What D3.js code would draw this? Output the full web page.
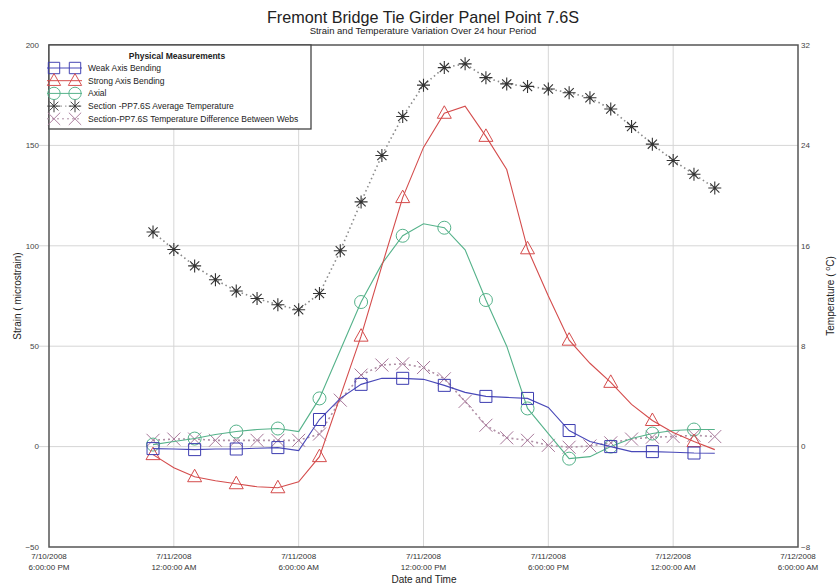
<!DOCTYPE html>
<html>
<head>
<meta charset="utf-8">
<script src="https://cdn.jsdelivr.net/npm/d3@7/dist/d3.min.js"></script>
<style>
  body { margin: 0; background: #fff; }
  text { font-family: "Liberation Sans", Arial, sans-serif; }
</style>
</head>
<body>
<div id="container"></div>
<script>
const w = 837;
const h = 587;

// hourly readings, 7/10/2008 11 PM .. 7/12/2008 2 AM
const times = [
  "2008-07-10 23:00", "2008-07-11 00:00", "2008-07-11 01:00", "2008-07-11 02:00",
  "2008-07-11 03:00", "2008-07-11 04:00", "2008-07-11 05:00", "2008-07-11 06:00",
  "2008-07-11 07:00", "2008-07-11 08:00", "2008-07-11 09:00", "2008-07-11 10:00",
  "2008-07-11 11:00", "2008-07-11 12:00", "2008-07-11 13:00", "2008-07-11 14:00",
  "2008-07-11 15:00", "2008-07-11 16:00", "2008-07-11 17:00", "2008-07-11 18:00",
  "2008-07-11 19:00", "2008-07-11 20:00", "2008-07-11 21:00", "2008-07-11 22:00",
  "2008-07-11 23:00", "2008-07-12 00:00", "2008-07-12 01:00", "2008-07-12 02:00"
];
const weakAxis = [-1, -1.2, -1.5, -1.2, -1.2, -0.8, -0.5, -2, 13.5, 24, 31, 34, 34, 33.5,
  30.5, 27, 25, 24.5, 24, 19.5, 8, 2.5, 0, -2.5, -2.5, -2.8, -3.2, -3.3];
const strongAxis = [-4, -10.5, -15, -17, -18.5, -20, -20.5, -17.5, -5, 25, 55, 90, 124, 149,
  166, 169.5, 154.5, 138, 98.5, 75, 53, 41.5, 32, 21, 13, 7, 2.5, -1.5];
const axial = [1, 2.5, 4, 6, 7.5, 8.5, 9, 7.5, 24, 48, 72, 91, 105, 111,
  109, 98, 73, 50, 19, 6.5, -6, -5, 0, 4, 6.5, 8, 8.5, 8.5];
const avgTemp = [17.1, 15.7, 14.4, 13.3, 12.4, 11.8, 11.3, 10.9, 12.2, 15.6, 19.5, 23.2, 26.3, 28.8,
  30.2, 30.5, 29.4, 28.9, 28.7, 28.5, 28.2, 27.8, 26.9, 25.5, 24.1, 22.8, 21.7, 20.6];
const tempDiff = [0.5, 0.6, 0.6, 0.5, 0.5, 0.5, 0.5, 0.5, 1.0, 3.7, 5.7, 6.5, 6.6, 6.3,
  5.4, 3.6, 1.7, 0.7, 0.5, 0.1, -0.05, 0.05, 0.3, 0.6, 0.75, 0.8, 0.9, 0.8];

const xTicks = ["2008-07-10 18:00", "2008-07-11 00:00", "2008-07-11 06:00", "2008-07-11 12:00",
  "2008-07-11 18:00", "2008-07-12 00:00", "2008-07-12 06:00"];
const xTickDate = ["7/10/2008", "7/11/2008", "7/11/2008", "7/11/2008", "7/11/2008", "7/12/2008", "7/12/2008"];
const xTickTime = ["6:00:00 PM", "12:00:00 AM", "6:00:00 AM", "12:00:00 PM", "6:00:00 PM", "12:00:00 AM", "6:00:00 AM"];
const strainTicks = [-50, 0, 50, 100, 150, 200];
const tempTicks = [-8, 0, 8, 16, 24, 32];

const legendTitle = "Physical Measurements";
const legendNames = ["Weak Axis Bending", "Strong Axis Bending", "Axial",
  "Section -PP7.6S Average Temperature", "Section-PP7.6S  Temperature Difference Between Webs"];

const parse = d3.timeParse("%Y-%m-%d %H:%M");
const dates = times.map(parse);

const plotL = 49, plotR = 798, plotT = 45, plotB = 547;

const scalex = d3.scaleTime()
  .domain([parse(xTicks[0]), parse(xTicks[xTicks.length - 1])])
  .range([plotL, plotR]);
const scaley = d3.scaleLinear().domain([-50, 200]).range([plotB, plotT]);
const scaleT = d3.scaleLinear().domain([-8, 32]).range([plotB, plotT]);

const markers = {
  square: "M-6,-6H6V6H-6Z",
  triangle: "M0,-7.5L7,5L-7,5Z",
  circle: "M6.5,0A6.5,6.5 0 1,1 -6.5,0A6.5,6.5 0 1,1 6.5,0Z",
  star: "M0,-6.5V6.5M-6.5,0H6.5M-4.6,-4.6L4.6,4.6M-4.6,4.6L4.6,-4.6",
  cross: "M-6.5,-6.5L6.5,6.5M-6.5,6.5L6.5,-6.5"
};

const series = [
  { name: legendNames[3], values: avgTemp, y: scaleT, color: "#333", line: "#8a8a8a", dash: "1.5,3", marker: "star", every: 1 },
  { name: legendNames[4], values: tempDiff, y: scaleT, color: "#a8789a", line: "#b090a6", dash: "2,3", marker: "cross", every: 1 },
  { name: legendNames[2], values: axial, y: scaley, color: "#55b28a", line: "#55b28a", dash: null, marker: "circle", every: 2 },
  { name: legendNames[1], values: strongAxis, y: scaley, color: "#d44c4c", line: "#d44c4c", dash: null, marker: "triangle", every: 2 },
  { name: legendNames[0], values: weakAxis, y: scaley, color: "#3c3cb0", line: "#4848b8", dash: null, marker: "square", every: 2 }
];

const svg = d3.select("#container")
  .append("svg")
  .attr("width", w)
  .attr("height", h);

svg.append("rect").attr("width", w).attr("height", h).attr("fill", "#fff");

// titles
svg.append("text")
  .attr("x", 423).attr("y", 23)
  .attr("text-anchor", "middle")
  .attr("font-size", 16.2)
  .attr("fill", "#222")
  .text("Fremont Bridge Tie Girder Panel Point 7.6S");
svg.append("text")
  .attr("x", 423).attr("y", 34)
  .attr("text-anchor", "middle")
  .attr("font-size", 9.5)
  .attr("fill", "#222")
  .text("Strain and Temperature Variation Over 24 hour Period");

// gridlines
const grid = svg.append("g").attr("stroke", "#d6d6d6").attr("stroke-width", 1);
grid.selectAll(".gx")
  .data(xTicks.slice(1, -1))
  .enter()
  .append("line")
  .attr("x1", d => scalex(parse(d)))
  .attr("x2", d => scalex(parse(d)))
  .attr("y1", plotT).attr("y2", plotB);
grid.selectAll(".gy")
  .data(strainTicks.slice(1, -1))
  .enter()
  .append("line")
  .attr("x1", plotL - 10).attr("x2", plotR)
  .attr("y1", d => scaley(d)).attr("y2", d => scaley(d));

// axes
const axisL = d3.axisLeft(scaley).tickValues(strainTicks).tickSize(0).tickPadding(10);
const gL = svg.append("g").attr("transform", `translate(${plotL},0)`).call(axisL);
const axisR = d3.axisRight(scaleT).tickValues(tempTicks).tickSize(0).tickPadding(3);
const gR = svg.append("g").attr("transform", `translate(${plotR},0)`).call(axisR);
[gL, gR].forEach(g => {
  g.select(".domain").remove();
  g.selectAll("text").attr("font-size", 8).attr("fill", "#444").attr("font-family", null);
});
gL.selectAll("text").attr("dy", "0.28em");
gR.selectAll("text").attr("dy", "0.28em");

const gX = svg.append("g");
const xt = gX.selectAll("text")
  .data(xTicks)
  .enter()
  .append("text")
  .attr("text-anchor", "middle")
  .attr("font-size", 8)
  .attr("fill", "#333")
  .attr("transform", d => `translate(${scalex(parse(d))},0)`);
xt.append("tspan").attr("x", 0).attr("y", 559).text((d, i) => xTickDate[i]);
xt.append("tspan").attr("x", 0).attr("y", 570).text((d, i) => xTickTime[i]);

svg.append("text")
  .attr("x", 424).attr("y", 583)
  .attr("text-anchor", "middle")
  .attr("font-size", 10)
  .attr("fill", "#222")
  .text("Date and Time");

svg.append("text")
  .attr("transform", "translate(21,296) rotate(-90)")
  .attr("text-anchor", "middle")
  .attr("font-size", 10)
  .attr("fill", "#222")
  .text("Strain ( microstrain)");

const tl = svg.append("text")
  .attr("transform", "translate(834,296) rotate(-90)")
  .attr("text-anchor", "middle")
  .attr("font-size", 10)
  .attr("fill", "#222");
tl.append("tspan").text("Temperature ( ");
tl.append("tspan").attr("font-size", 7).attr("dy", -4).text("o");
tl.append("tspan").attr("dy", 4).text("C)");

// series
series.forEach(s => {
  const line = d3.line()
    .x((d, i) => scalex(dates[i]))
    .y(d => s.y(d));
  svg.append("path")
    .datum(s.values)
    .attr("fill", "none")
    .attr("stroke", s.line)
    .attr("stroke-width", s.dash ? 1.6 : 1.1)
    .attr("stroke-dasharray", s.dash)
    .attr("d", line);
  svg.selectAll(null)
    .data(s.values.filter((d, i) => i % s.every === 0))
    .enter()
    .append("path")
    .attr("d", markers[s.marker])
    .attr("transform", (d, i) => `translate(${scalex(dates[i * s.every])},${s.y(d)})`)
    .attr("fill", "none")
    .attr("stroke", s.color)
    .attr("stroke-width", s.marker === "star" ? 1.1 : 1);
});

// frame
svg.append("rect")
  .attr("x", plotL).attr("y", plotT)
  .attr("width", plotR - plotL).attr("height", plotB - plotT)
  .attr("fill", "none")
  .attr("stroke", "#555")
  .attr("stroke-width", 1.5);

// legend
const lg = svg.append("g");
lg.append("rect")
  .attr("x", plotL).attr("y", plotT)
  .attr("width", 262).attr("height", 84)
  .attr("fill", "#fff")
  .attr("stroke", "#444")
  .attr("stroke-width", 1.3);
lg.append("text")
  .attr("x", 177).attr("y", 59)
  .attr("text-anchor", "middle")
  .attr("font-size", 8.5)
  .attr("font-weight", "bold")
  .attr("fill", "#222")
  .text(legendTitle);
const legendOrder = [4, 3, 2, 0, 1];
legendOrder.forEach((k, r) => {
  const s = series[k];
  const yy = 68 + r * 12.7;
  lg.append("line")
    .attr("x1", 47).attr("x2", 82)
    .attr("y1", yy).attr("y2", yy)
    .attr("stroke", s.line)
    .attr("stroke-width", 1)
    .attr("stroke-dasharray", s.dash);
  [54, 75].forEach(mx => {
    lg.append("path")
      .attr("d", markers[s.marker])
      .attr("transform", `translate(${mx},${yy}) scale(0.95)`)
      .attr("fill", "none")
      .attr("stroke", s.color)
      .attr("stroke-width", 1);
  });
  lg.append("text")
    .attr("x", 88).attr("y", yy + 3)
    .attr("font-size", 8.5)
    .attr("fill", "#222")
    .text(s.name);
});
</script>
</body>
</html>
